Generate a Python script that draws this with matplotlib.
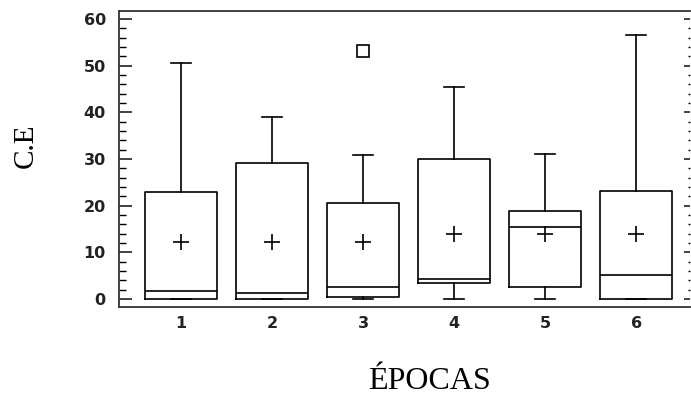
import matplotlib.pyplot as plt
from matplotlib.ticker import MultipleLocator

# box statistics per época
epocas = ["1", "2", "3", "4", "5", "6"]
whislo = [0.0, 0.0, 0.0, 0.0, 0.0, 0.0]
q1 = [0.0, 0.0, 0.4, 3.4, 2.6, 0.0]
med = [1.7, 1.2, 2.6, 4.2, 15.4, 5.1]
q3 = [23.0, 29.1, 20.5, 29.9, 18.8, 23.1]
whishi = [50.6, 38.9, 30.8, 45.4, 31.1, 56.6]
means = [12.3, 12.3, 12.3, 13.9, 13.9, 13.9]
outliers = [[], [], [53.1], [], [], []]

stats = []
for i in range(len(epocas)):
    stats.append({
        "label": epocas[i],
        "whislo": whislo[i], "q1": q1[i], "med": med[i],
        "q3": q3[i], "whishi": whishi[i], "mean": means[i],
        "fliers": outliers[i],
    })

fig = plt.figure(figsize=(6.91, 4.0), dpi=100)
ax = fig.add_axes([119 / 691, 1 - 307 / 400, 571 / 691, 296 / 400])

lw = 1.2
line = dict(color="black", linewidth=lw)
ax.bxp(
    stats,
    positions=range(1, 7),
    widths=0.79,
    capwidths=0.22,
    showmeans=True,
    boxprops=line,
    whiskerprops=line,
    capprops=line,
    medianprops=line,
    meanprops=dict(marker="+", markersize=11, markeredgecolor="black",
                   markeredgewidth=1.2),
    flierprops=dict(marker="s", markersize=8, markerfacecolor="none",
                    markeredgecolor="black", markeredgewidth=1.2),
)

ax.set_xlim(0.32, 6.59)
ax.set_ylim(-1.7, 61.7)
ax.yaxis.set_major_locator(MultipleLocator(10))
ax.yaxis.set_minor_locator(MultipleLocator(2))

for side in ["left", "top", "bottom"]:
    ax.spines[side].set_color("#333333")
    ax.spines[side].set_linewidth(1.3)
ax.spines["right"].set_visible(False)

ax.tick_params(axis="y", which="major", direction="in", length=9, width=1.2,
               right=True, labelsize=11.5, pad=9.5, colors="#222222")
ax.tick_params(axis="y", which="minor", direction="in", length=5, width=1.0,
               right=True)
ax.tick_params(axis="x", length=0, pad=6.5, labelsize=11.5, colors="#222222")
for lab in ax.get_xticklabels() + ax.get_yticklabels():
    lab.set_fontweight("bold")

# right side ticks are shorter and lighter
for t in ax.yaxis.get_major_ticks():
    t.tick2line.set_markersize(4)
for t in ax.yaxis.get_minor_ticks():
    t.tick2line.set_markersize(1.5)
    t.tick2line.set_color("#888888")

fig.text(26 / 691, 1 - 146 / 400, "C.E", rotation=90, ha="center", va="center",
         fontsize=21, family="Liberation Serif")
fig.text(429 / 691, 1 - 389 / 400, "ÉPOCAS", ha="center", va="baseline",
         fontsize=23, family="Liberation Serif")

fig.savefig("out.png", dpi=100)
